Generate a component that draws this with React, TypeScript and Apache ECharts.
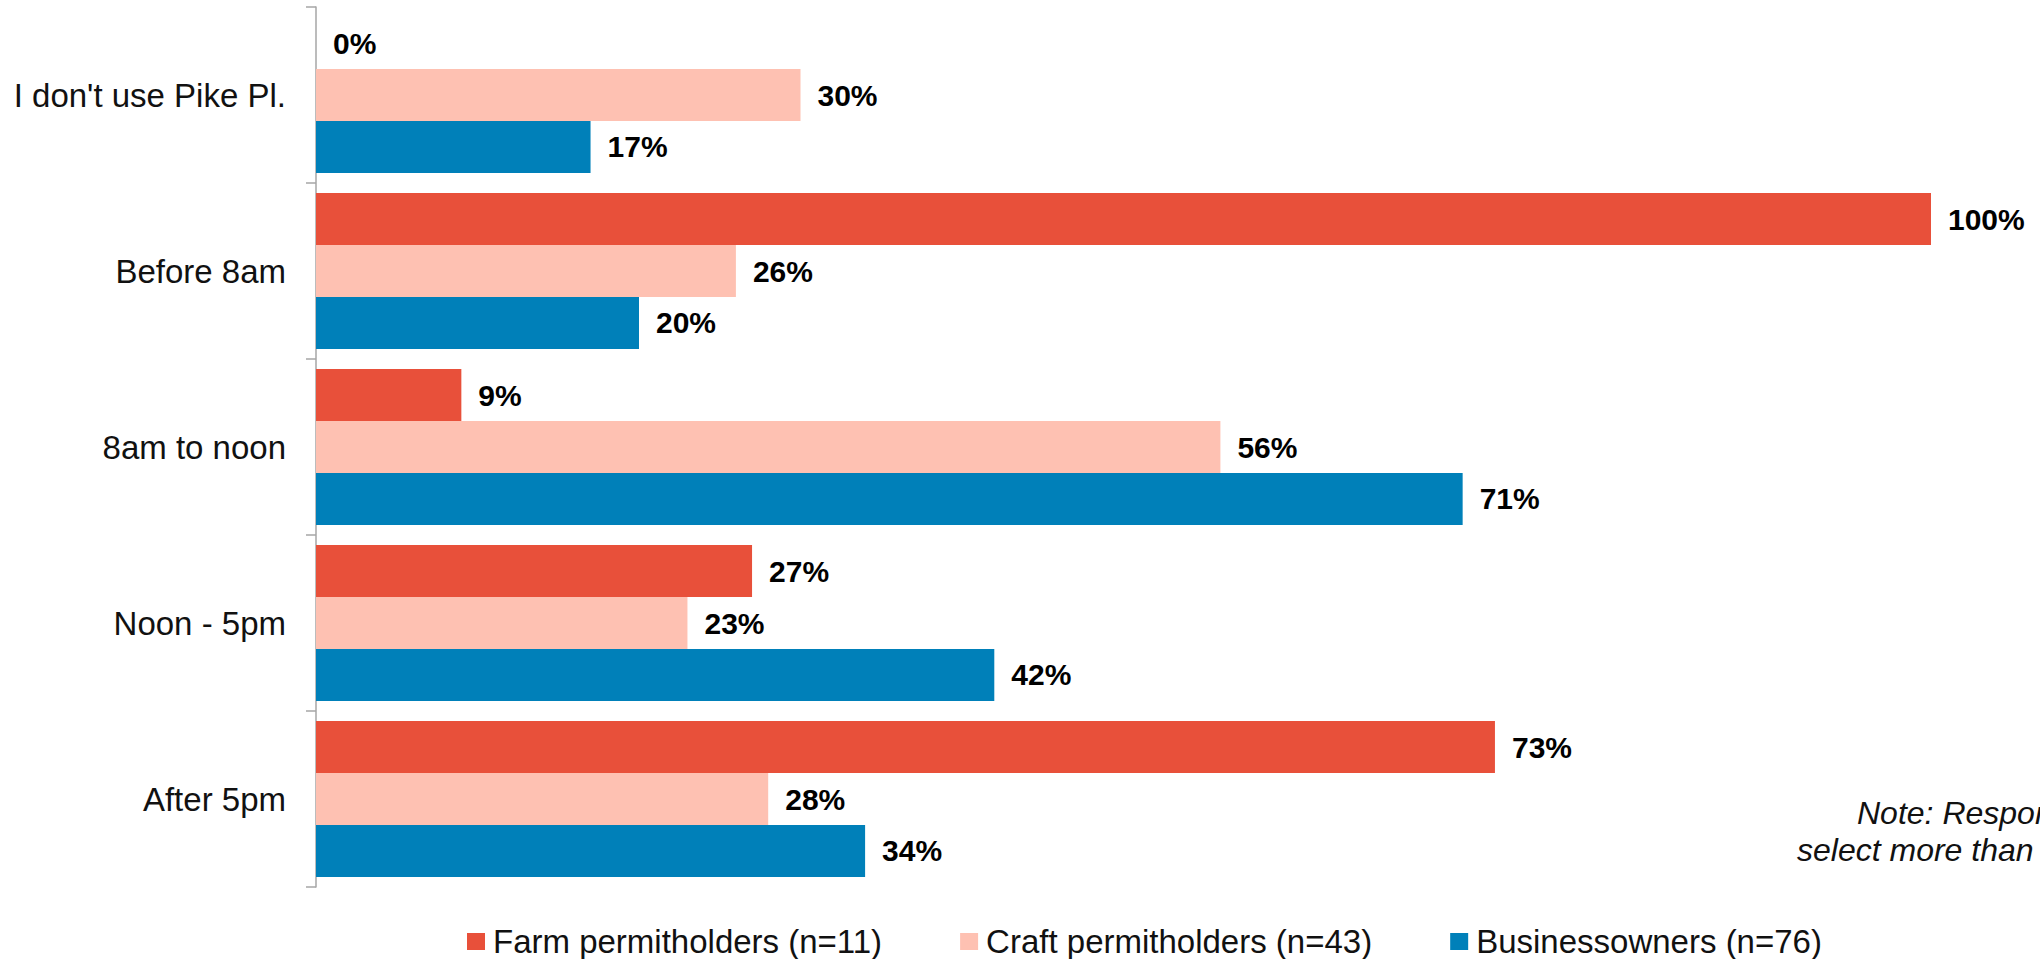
import React, { useEffect, useRef } from "react";
import * as echarts from "echarts";

const categories = ["I don't use Pike Pl.", "Before 8am", "8am to noon", "Noon - 5pm", "After 5pm"];
const seriesNames = ["Farm permitholders (n=11)", "Craft permitholders (n=43)", "Businessowners (n=76)"];
const farmValues = [0, 100, 9, 27, 73];
const craftValues = [30, 26, 56, 23, 28];
const businessValues = [17, 20, 71, 42, 34];
const seriesColors = ["#E8503A", "#FEC1B2", "#0080B9"];
const noteLines = ["Note: Respondents could", "select more than one answer."];

const FONT = "'Liberation Sans', Arial, sans-serif";

export default function App() {
  const ref = useRef<HTMLDivElement>(null);
  useEffect(() => {
    if (!ref.current) return;
    const chart = echarts.init(ref.current, undefined, { renderer: "svg" });
    const values = [farmValues, craftValues, businessValues];
    chart.setOption({
      animation: false,
      backgroundColor: "#ffffff",
      textStyle: { fontFamily: FONT },
      grid: { left: 316, right: 109, top: 7, bottom: 72, containLabel: false },
      xAxis: {
        type: "value",
        min: 0,
        max: 100,
        show: false,
      },
      yAxis: {
        type: "category",
        data: categories,
        inverse: true,
        axisLine: { show: true, lineStyle: { color: "#A6A6A6", width: 1.5 } },
        axisTick: { show: true, length: 10, lineStyle: { color: "#A6A6A6", width: 1.5 } },
        axisLabel: { margin: 30, fontSize: 33, color: "#111", fontFamily: FONT },
      },
      legend: {
        left: 462,
        top: 920,
        itemWidth: 18,
        itemHeight: 17,
        itemGap: 78,
        icon: "rect",
        textStyle: { fontSize: 33, color: "#111", fontFamily: FONT, padding: [0, 0, 0, 3] },
        data: seriesNames,
      },
      series: seriesNames.map((name, i) => ({
        name,
        type: "bar",
        data: values[i],
        barGap: "0%",
        barCategoryGap: "11.4%",
        itemStyle: { color: seriesColors[i] },
        label: {
          show: true,
          position: "right",
          distance: 17,
          formatter: "{c}%",
          fontSize: 30,
          fontWeight: "bold",
          color: "#000",
          fontFamily: FONT,
        },
      })),
      graphic: [
        {
          type: "text",
          left: 1857,
          top: 797,
          style: { text: noteLines[0], fontSize: 32, fontStyle: "italic", fill: "#111", fontFamily: FONT },
        },
        {
          type: "text",
          left: 1797,
          top: 834,
          style: { text: noteLines[1], fontSize: 32, fontStyle: "italic", fill: "#111", fontFamily: FONT },
        },
      ],
    });
    return () => chart.dispose();
  }, []);
  return (
    <div
      ref={ref}
      style={{ position: "fixed", left: 0, top: 0, width: 2040, height: 959, background: "#fff" }}
    />
  );
}
